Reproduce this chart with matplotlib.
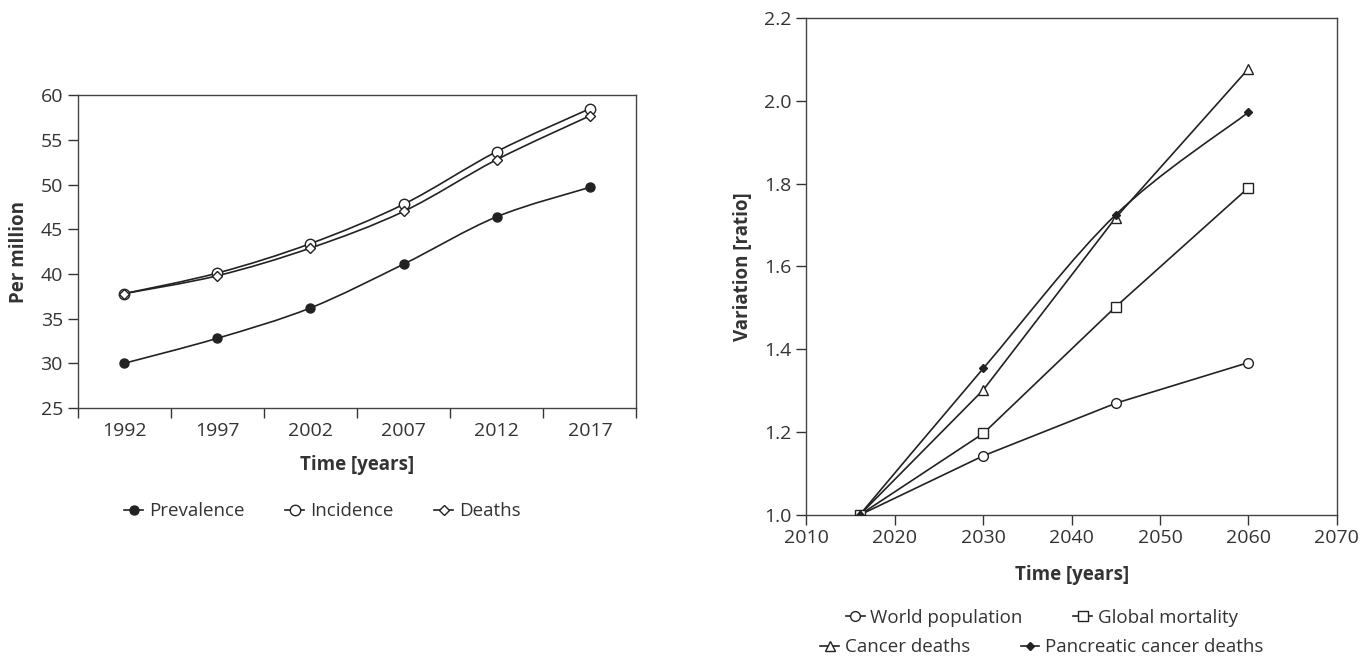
import matplotlib.pyplot as plt
import numpy as np
from matplotlib.lines import Line2D
from matplotlib.patches import PathPatch
from matplotlib.path import Path

# --- left panel: per-million rates, 1992-2017 ---
periods = ["1992", "1997", "2002", "2007", "2012", "2017"]
prevalence = [30.0, 32.8, 36.2, 41.1, 46.4, 49.7]
incidence = [37.8, 40.1, 43.4, 47.8, 53.7, 58.5]
deaths = [37.8, 39.8, 42.9, 47.0, 52.8, 57.7]

# --- right panel: projected variation ratio ---
proj_years = [2016, 2030, 2045, 2060]
world_population = [1.0, 1.143, 1.270, 1.368]
global_mortality = [1.0, 1.197, 1.503, 1.790]
cancer_deaths = [1.0, 1.302, 1.718, 2.077]
pancreatic_deaths = [1.0, 1.354, 1.725, 1.972]

INK = "#222222"
TXT = "#333333"
FS = 13.5
TICK_FS = 14

plt.rcParams["font.family"] = ["Open Sans", "DejaVu Sans"]
plt.rcParams["text.color"] = TXT
plt.rcParams["axes.labelcolor"] = TXT
plt.rcParams["xtick.color"] = TXT
plt.rcParams["ytick.color"] = TXT


def smooth_path(x, y):
    """Catmull-Rom style smoothing (like a spreadsheet 'smoothed line') as cubic Beziers."""
    pts = np.column_stack([np.asarray(x, float), np.asarray(y, float)])
    n = len(pts)
    verts = [pts[0]]
    codes = [Path.MOVETO]
    for i in range(n - 1):
        p_prev = pts[max(i - 1, 0)]
        p0, p1 = pts[i], pts[i + 1]
        p_next = pts[min(i + 2, n - 1)]
        c1 = p0 + (p1 - p_prev) / 6.0
        c2 = p1 - (p_next - p0) / 6.0
        verts += [c1, c2, p1]
        codes += [Path.CURVE4] * 3
    return Path(verts, codes)


def draw_series(ax, x, y, marker, mfc, ms, smooth):
    if smooth:
        ax.add_patch(PathPatch(smooth_path(x, y), fill=False, edgecolor=INK, lw=1.2, zorder=2))
    else:
        ax.plot(x, y, color=INK, lw=1.2, zorder=2)
    ax.plot(x, y, ls="none", marker=marker, mfc=mfc, mec=INK, mew=1.0, ms=ms, zorder=3)


def handle(marker, mfc, ms):
    return Line2D([], [], color=INK, lw=1.2, marker=marker, mfc=mfc, mec=INK, mew=1.0, ms=ms)


def style_axes(ax):
    for s in ax.spines.values():
        s.set_color("#444444")
        s.set_linewidth(1.0)
    ax.tick_params(direction="out", length=7, width=1.0, labelsize=TICK_FS, colors=TXT)


fig = plt.figure(figsize=(13.6, 6.57), dpi=100)

# ---------------- left ----------------
ax1 = fig.add_axes([0.057, 0.379, 0.411, 0.476])
xi = np.arange(len(periods))
draw_series(ax1, xi, prevalence, "o", INK, 6.5, True)
draw_series(ax1, xi, incidence, "o", "white", 7.5, True)
draw_series(ax1, xi, deaths, "D", "white", 5.5, True)
ax1.set_xlim(-0.5, len(periods) - 0.5)
ax1.set_ylim(25, 60)
ax1.set_yticks(np.arange(25, 61, 5))
ax1.set_xticks(np.arange(-0.5, len(periods), 1.0))
ax1.set_xticklabels([])
ax1.set_xticks(xi, minor=True)
ax1.set_xticklabels(periods, minor=True)
style_axes(ax1)
ax1.tick_params(axis="x", which="minor", length=0, labelsize=TICK_FS, pad=10)
ax1.set_xlabel("Time [years]", fontsize=FS, fontweight="bold", labelpad=11)
ax1.set_ylabel("Per million", fontsize=FS, fontweight="bold", labelpad=8)
fig.legend(
    [handle("o", INK, 6.5), handle("o", "white", 7.5), handle("D", "white", 5.5)],
    ["Prevalence", "Incidence", "Deaths"],
    loc="center", bbox_to_anchor=(0.237, 0.222), ncol=3, frameon=False,
    fontsize=FS, handlelength=1.0, handletextpad=0.3, columnspacing=2.2,
)

# ---------------- right ----------------
ax2 = fig.add_axes([0.593, 0.216, 0.390, 0.757])
draw_series(ax2, proj_years, world_population, "o", "white", 7.0, False)
draw_series(ax2, proj_years, global_mortality, "s", "white", 7.0, False)
draw_series(ax2, proj_years, cancer_deaths, "^", "white", 7.5, False)
draw_series(ax2, proj_years, pancreatic_deaths, "D", INK, 4.0, True)
ax2.set_xlim(2010, 2070)
ax2.set_ylim(1.0, 2.2)
ax2.set_xticks(np.arange(2010, 2071, 10))
ax2.set_yticks(np.arange(1.0, 2.21, 0.2))
ax2.yaxis.set_major_formatter(plt.FormatStrFormatter("%.1f"))
style_axes(ax2)
ax2.tick_params(axis="x", pad=3)
ax2.set_xlabel("Time [years]", fontsize=FS, fontweight="bold", labelpad=13)
ax2.set_ylabel("Variation [ratio]", fontsize=FS, fontweight="bold", labelpad=8)
fig.legend(
    [handle("o", "white", 7.0), handle("s", "white", 7.0)],
    ["World population", "Global mortality"],
    loc="center", bbox_to_anchor=(0.766, 0.060), ncol=2, frameon=False,
    fontsize=FS, handlelength=1.0, handletextpad=0.3, columnspacing=2.7,
)
fig.legend(
    [handle("^", "white", 7.5), handle("D", INK, 4.0)],
    ["Cancer deaths", "Pancreatic cancer deaths"],
    loc="center", bbox_to_anchor=(0.766, 0.015), ncol=2, frameon=False,
    fontsize=FS, handlelength=1.0, handletextpad=0.3, columnspacing=2.7,
)

fig.savefig("out.png", dpi=100, facecolor="white")
